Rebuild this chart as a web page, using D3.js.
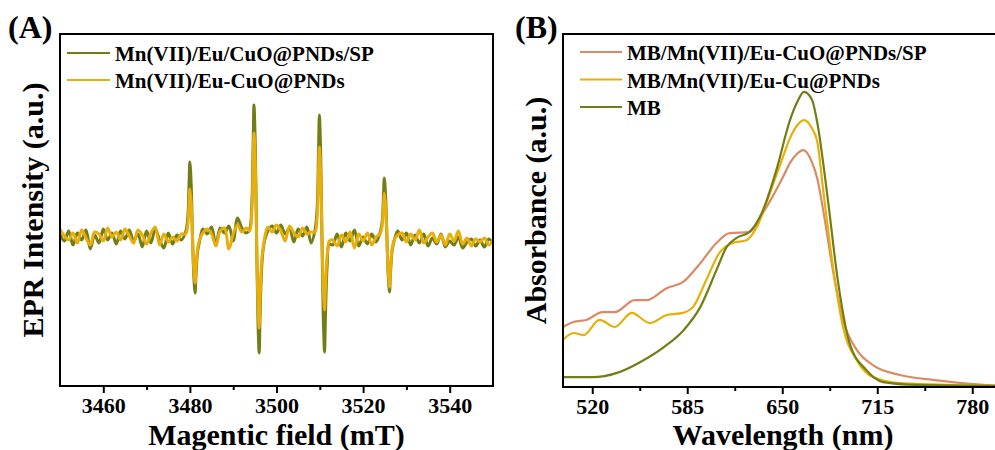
<!DOCTYPE html>
<html><head><meta charset="utf-8">
<script src="https://cdn.jsdelivr.net/npm/d3@7"></script>
<style>
html,body{margin:0;padding:0;background:#fff;}
svg text{font-family:"Liberation Serif","Times New Roman",serif !important;font-weight:bold;fill:#000;}
</style></head>
<body><svg id="c" width="995" height="450"></svg>
<script>
// ---------- Panel A data (EPR) ----------
const fieldA = [
 3450,3451,3452,3453,3454,3455,3456,3457,3458,3459,3460,3461,3462,3463,3464,3465,3466,3467,3468,3469,3470,3471,3472,3473,3474,3475,3476,3477,3478,
 3479.0,3479.5,3479.8,3480.0,3480.3,3480.6,3480.9,3481.2,3481.4,3481.8,3482.3,
 3483,3484,3485,3486,3487,3488,3489,3490,3491,3492,3493,
 3493.8,3494.3,3494.6,3494.8,3495.1,3495.4,3495.7,3496.0,3496.2,3496.6,3497.1,
 3498,3499,3500,3501,3502,3503,3504,3505,3506,3507,3508,
 3508.9,3509.4,3509.7,3509.9,3510.2,3510.5,3510.8,3511.1,3511.3,3511.7,3512.2,
 3513,3514,3515,3516,3517,3518,3519,3520,3521,3522,3523,
 3523.9,3524.4,3524.7,3524.9,3525.2,3525.5,3525.8,3526.1,3526.3,3526.7,3527.2,
 3528,3529,3530,3531,3532,3533,3534,3535,3536,3537,3538,3539,3540,3541,3542,3543,3544,3545,3546,3547,3548,3549,3550
];
const eprSP = [
 3,-4,6,-8,4,-3,7,-12,2,-6,8,-3,4,-7,6,-2,7,-4,3,-10,6,-6,8,-3,-11,4,-7,2,-3,
 5,19,53,75,52,0,-39,-56,-39,-14,-3,
 8,3,10,-8,9,4,11,-4,19,9,4,
 8,33,92,132,92,0,-81,-116,-81,-29,-7,
 6,11,4,12,3,9,-5,8,1,10,-6,
 7,30,85,122,85,0,-80,-115,-80,-29,-7,
 -8,3,-10,4,-4,7,-9,0,-7,3,-5,
 4,15,41,59,41,0,-38,-55,-38,-14,-3,
 6,-3,4,-8,2,-6,3,-9,-1,-7,3,-10,-4,-8,0,-11,-5,-2,-9,-3,-10,-2,-6
];
const eprEu = [
 8,1,-3,4,-6,7,-1,-8,5,3,-4,9,0,5,-3,8,1,-6,7,2,-7,4,10,-8,3,-5,0,-4,3,
 3,12,34,48,34,0,-32,-46,-32,-11,-2,
 4,8,3,-9,6,9,-12,3,12,5,9,
 6,26,73,104,73,0,-64,-91,-64,-23,-5,
 10,5,12,6,-4,11,4,0,9,3,5,
 5,22,63,90,63,0,-51,-73,-51,-18,-4,
 -3,-9,2,-5,5,-11,3,-4,4,-8,0,
 3,11,31,44,31,0,-35,-50,-35,-12,-3,
 2,4,-5,3,-3,7,-6,0,4,-5,2,-8,3,-4,6,-7,-1,-9,-2,-5,-1,-8,-3
];
const ticksA = [3460,3480,3500,3520,3540];
const minorA = [3470,3490,3510,3530];
const namesA = ["Mn(VII)/Eu/CuO@PNDs/SP","Mn(VII)/Eu-CuO@PNDs"];

// ---------- Panel B data (UV-vis) ----------
const wlSP = [500,507,516,527,535.5,549,557,571,582,594,605,614,627.6,636.8,650.5,655.3,660,664.5,670,674,678,685,691.6,701,712,730.5,753,787.5,800];
const absSP = [0.170,0.184,0.190,0.212,0.212,0.246,0.246,0.280,0.297,0.351,0.408,0.436,0.439,0.493,0.595,0.635,0.660,0.671,0.640,0.590,0.501,0.323,0.190,0.105,0.062,0.034,0.020,0.006,0.003];
const wlCu = [500,507,514,525,535.5,547,559.5,571,582,589,598,607,616,625.6,632.6,641.6,650.5,655.3,660,664.9,670,674,678,685,691.6,701,712,730.5,800];
const absCu = [0.133,0.153,0.147,0.190,0.170,0.210,0.181,0.204,0.210,0.227,0.303,0.380,0.408,0.416,0.453,0.550,0.652,0.705,0.740,0.756,0.735,0.694,0.558,0.331,0.170,0.076,0.028,0.011,0.003];
const wlMB = [500,520,537,553,569,582.5,594,605,612,618.6,627.5,636,646,655.3,660,664.9,670.4,674,681,688,696,707.5,719,742,800];
const absMB = [0.028,0.028,0.040,0.071,0.113,0.161,0.227,0.331,0.397,0.422,0.439,0.493,0.615,0.756,0.805,0.836,0.813,0.748,0.538,0.303,0.125,0.048,0.014,0.006,0.003];
const ticksB = [520,585,650,715,780];
const minorB = [552.5,617.5,682.5,747.5];
const namesB = ["MB/Mn(VII)/Eu-CuO@PNDs/SP","MB/Mn(VII)/Eu-Cu@PNDs","MB"];

const cOlive = "#737d16", cYellow = "#e8ae0a", cSalmon = "#d98b68";
const FONT = '"Liberation Serif","Times New Roman",serif';

const svg = d3.select("#c");

function styleAxis(g){
  g.attr("font-family", FONT).attr("font-weight","bold");
  g.select(".domain").remove();
  g.selectAll("line").attr("stroke-width",2);
  g.selectAll("text").style("font-size","22px").style("font-family",FONT).style("font-weight","bold");
}

// ---------- Panel A ----------
const A = {l:60, r:493, t:34, b:386};
const xA = d3.scaleLinear().domain([3450,3550]).range([A.l, A.r]);
const yA = d3.scaleLinear().domain([-149,203]).range([A.b, A.t]);
svg.append("clipPath").attr("id","clipA").append("rect")
  .attr("x",A.l).attr("y",A.t).attr("width",A.r-A.l).attr("height",A.b-A.t);
const lineA = d3.line().x((d,i)=>xA(fieldA[i])).y(d=>yA(d)).curve(d3.curveCatmullRom.alpha(0.5));
const gA = svg.append("g").attr("clip-path","url(#clipA)");
gA.append("path").attr("d",lineA(eprSP)).attr("fill","none").attr("stroke",cOlive).attr("stroke-width",3).attr("stroke-linejoin","round");
gA.append("path").attr("d",lineA(eprEu)).attr("fill","none").attr("stroke",cYellow).attr("stroke-width",3).attr("stroke-linejoin","round");

styleAxis(svg.append("g").attr("transform",`translate(0,${A.b})`)
  .call(d3.axisBottom(xA).tickValues(ticksA).tickSize(7).tickPadding(4).tickFormat(d3.format("d"))));
styleAxis(svg.append("g").attr("transform",`translate(0,${A.b})`)
  .call(d3.axisBottom(xA).tickValues(minorA).tickSize(4).tickFormat("")));
svg.append("rect").attr("x",A.l).attr("y",A.t).attr("width",A.r-A.l).attr("height",A.b-A.t)
  .attr("fill","none").attr("stroke","#000").attr("stroke-width",2);

svg.append("text").attr("x",(A.l+A.r)/2).attr("y",445).attr("text-anchor","middle").style("font-size","30px").text("Magentic field (mT)");
svg.append("text").attr("transform",`translate(43,${(A.t+A.b)/2}) rotate(-90)`).attr("text-anchor","middle").style("font-size","30px").text("EPR Intensity (a.u.)");
svg.append("text").attr("x",8).attr("y",38).style("font-size","32px").text("(A)");

[cOlive,cYellow].forEach((c,i)=>{
  const y = 53 + i*27;
  svg.append("line").attr("x1",67).attr("x2",110).attr("y1",y).attr("y2",y).attr("stroke",c).attr("stroke-width",2.2);
  svg.append("text").attr("x",115).attr("y",y+8).style("font-size","21px").text(namesA[i]);
});

// ---------- Panel B ----------
const B = {l:563, r:1001.5, t:34, b:387};
const xB = d3.scaleLinear().domain([500,800]).range([B.l, B.r]);
const yB = d3.scaleLinear().domain([0,1]).range([B.b, B.t]);
svg.append("clipPath").attr("id","clipB").append("rect")
  .attr("x",B.l).attr("y",B.t).attr("width",B.r-B.l).attr("height",B.b-B.t);
const gB = svg.append("g").attr("clip-path","url(#clipB)");
const seriesB = [[wlSP,absSP,cSalmon],[wlCu,absCu,cYellow],[wlMB,absMB,cOlive]];
seriesB.forEach(([xs,ys,c])=>{
  const ln = d3.line().x((d,i)=>xB(xs[i])).y(d=>yB(d)).curve(d3.curveMonotoneX);
  gB.append("path").attr("d",ln(ys)).attr("fill","none").attr("stroke",c).attr("stroke-width",2.2);
});
styleAxis(svg.append("g").attr("transform",`translate(0,${B.b})`)
  .call(d3.axisBottom(xB).tickValues(ticksB).tickSize(7).tickPadding(4).tickFormat(d3.format("d"))));
styleAxis(svg.append("g").attr("transform",`translate(0,${B.b})`)
  .call(d3.axisBottom(xB).tickValues(minorB).tickSize(4).tickFormat("")));
svg.append("rect").attr("x",B.l).attr("y",B.t).attr("width",B.r-B.l).attr("height",B.b-B.t)
  .attr("fill","none").attr("stroke","#000").attr("stroke-width",2);

svg.append("text").attr("x",783).attr("y",445).attr("text-anchor","middle").style("font-size","30px").text("Wavelength (nm)");
svg.append("text").attr("transform",`translate(546,${(B.t+B.b)/2}) rotate(-90)`).attr("text-anchor","middle").style("font-size","30px").text("Absorbance (a.u.)");
svg.append("text").attr("x",515).attr("y",38).style("font-size","32px").text("(B)");

[cSalmon,cYellow,cOlive].forEach((c,i)=>{
  const y = 52 + i*27.5;
  svg.append("line").attr("x1",580).attr("x2",622).attr("y1",y).attr("y2",y).attr("stroke",c).attr("stroke-width",2.2);
  svg.append("text").attr("x",627).attr("y",y+8).style("font-size","21px").text(namesB[i]);
});
</script></body></html>
